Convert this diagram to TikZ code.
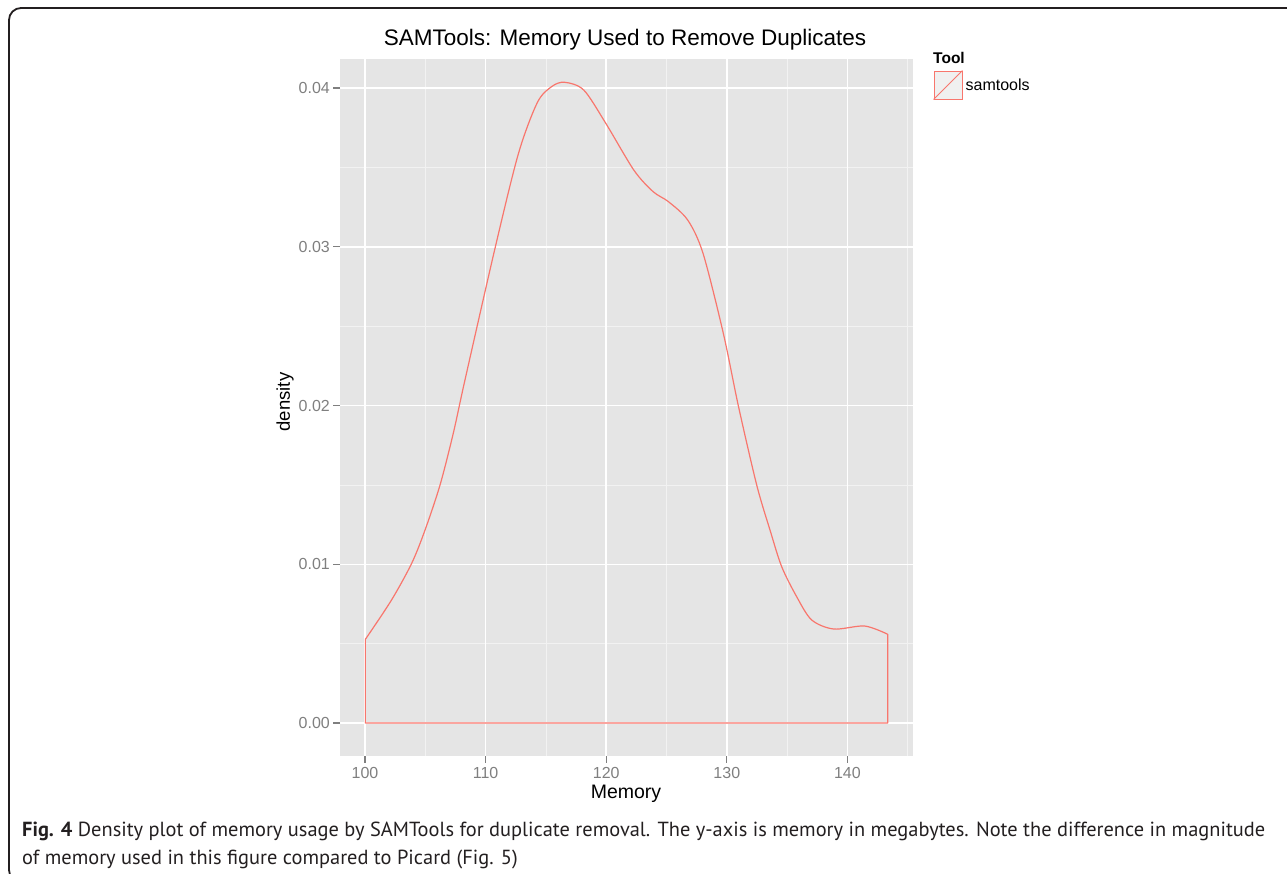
\documentclass[tikz,border=0pt]{standalone}
\usepackage{fontspec}
\setmainfont{Liberation Sans}
\newfontfamily\capfont{PT Sans}
\usepackage{tikz}
\usetikzlibrary{positioning}

\definecolor{ggred}{HTML}{F8766D}
\definecolor{ggpanel}{HTML}{E5E5E5}
\definecolor{ggminor}{HTML}{F2F2F2}
\definecolor{ggkey}{HTML}{F0F0F0}
\definecolor{ggtick}{HTML}{7F7F7F}
\definecolor{capink}{HTML}{231F20}

\begin{document}
\begin{tikzpicture}[x=1pt,y=-1pt,
    majorgrid/.style={draw=white, line width=1.5pt},
    minorgrid/.style={draw=ggminor, line width=0.7pt},
    axtick/.style={draw=ggtick, line width=1.2pt},
    ticklab/.style={text=ggtick, font=\fontsize{16}{18}\selectfont, inner sep=0pt},
    axlab/.style={font=\fontsize{18.5}{21}\selectfont, inner sep=0pt},
    dens/.style={draw=ggred, line width=1.2pt, line join=round},
    keybox/.style={draw=ggred, fill=ggkey, line width=0.9pt, minimum width=28pt, minimum height=28pt, inner sep=0pt},
    captext/.style={text=capink, font=\capfont\fontsize{20.4}{24}\selectfont, anchor=base west, inner sep=0pt}]

  \useasboundingbox (0,0) rectangle (1287,873);
  \clip (0,0) rectangle (1287,873);

  % frame round the figure
  \draw[capink, line width=1.8pt, rounded corners=12pt] (1300,8) -- (9,8) -- (9,882) -- (40,882);

  % plot panel, in data units (memory-100, density*100)
  \begin{scope}[shift={(365,723)}, x=12.06pt, y=158.75pt]
    \fill[ggpanel] (-2.07,-0.208) rectangle (45.44,4.183);
    \foreach \m in {5,15,...,45} \draw[minorgrid] (\m,-0.208) -- (\m,4.183);
    \foreach \d in {0.5,1.5,...,3.5} \draw[minorgrid] (-2.07,\d) -- (45.44,\d);
    \foreach \m in {0,10,...,40} \draw[majorgrid] (\m,-0.208) -- (\m,4.183);
    \foreach \d in {0,...,4} \draw[majorgrid] (-2.07,\d) -- (45.44,\d);

    % axes
    \foreach \d/\lab in {0/0.00,1/0.01,2/0.02,3/0.03,4/0.04} {
      \draw[axtick] (-2.07,\d) -- ++(-7pt,0);
      \node[ticklab, anchor=east, xshift=-10pt] (yt\d) at (-2.07,\d) {\lab};
    }
    \foreach \m/\lab in {0/100,10/110,20/120,30/130,40/140} {
      \draw[axtick] (\m,-0.208) -- ++(0,-7pt);
      \node[ticklab, anchor=north, yshift=-11pt] (xt\m) at (\m,-0.208) {\lab};
    }

    % density of samtools
    \draw[dens] (0.03,0) -- plot[smooth] coordinates {
      (0.03,0.527) (2.2,0.775) (3.87,1.006) (4.98,1.216) (6.22,1.499)
      (7.32,1.825) (8.29,2.161) (10.81,3.0) (12.73,3.589) (14.3,3.91)
      (15.5,4.01) (16.55,4.036) (18.14,3.987) (19.97,3.777) (22.29,3.483)
      (23.89,3.347) (25.16,3.284) (26.76,3.168) (28.03,2.958) (29.71,2.455)
      (30.96,1.997) (32.48,1.499) (33.58,1.216) (34.55,0.985) (35.79,0.796)
      (37.04,0.649) (38.87,0.592) (41.43,0.611) (43.34,0.559)} -- (43.34,0) -- cycle;
  \end{scope}

  \node[font=\fontsize{22.5}{26}\selectfont, anchor=base, inner sep=0pt] (title) at (625,45) {SAMTools: Memory Used to Remove Duplicates};
  \node[axlab, anchor=base, font=\fontsize{19.5}{22}\selectfont] (xlab) at (626,798) {Memory};
  \node[axlab, rotate=90] (ylab) at (285,402) {density};

  % legend
  \node[font=\bfseries\fontsize{15.5}{18}\selectfont, anchor=base west, inner sep=0pt] (legtitle) at (933,63) {Tool};
  \node[keybox] (legkey) at (948,85) {};
  \draw[ggred, line width=0.9pt] (legkey.south west) -- (legkey.north east);
  \node[right=3pt of legkey, font=\fontsize{16}{18}\selectfont, inner sep=0pt] (legsam) {samtools};

  % caption
  \node[captext] (cap1) at (22,836) {\textbf{Fig. 4} Density plot of memory usage by SAMTools for duplicate removal. The y-axis is memory in megabytes. Note the difference in magnitude};
  \node[captext] (cap2) at (22,864) {of memory used in this figure compared to Picard (Fig. 5)};
\end{tikzpicture}
\end{document}
